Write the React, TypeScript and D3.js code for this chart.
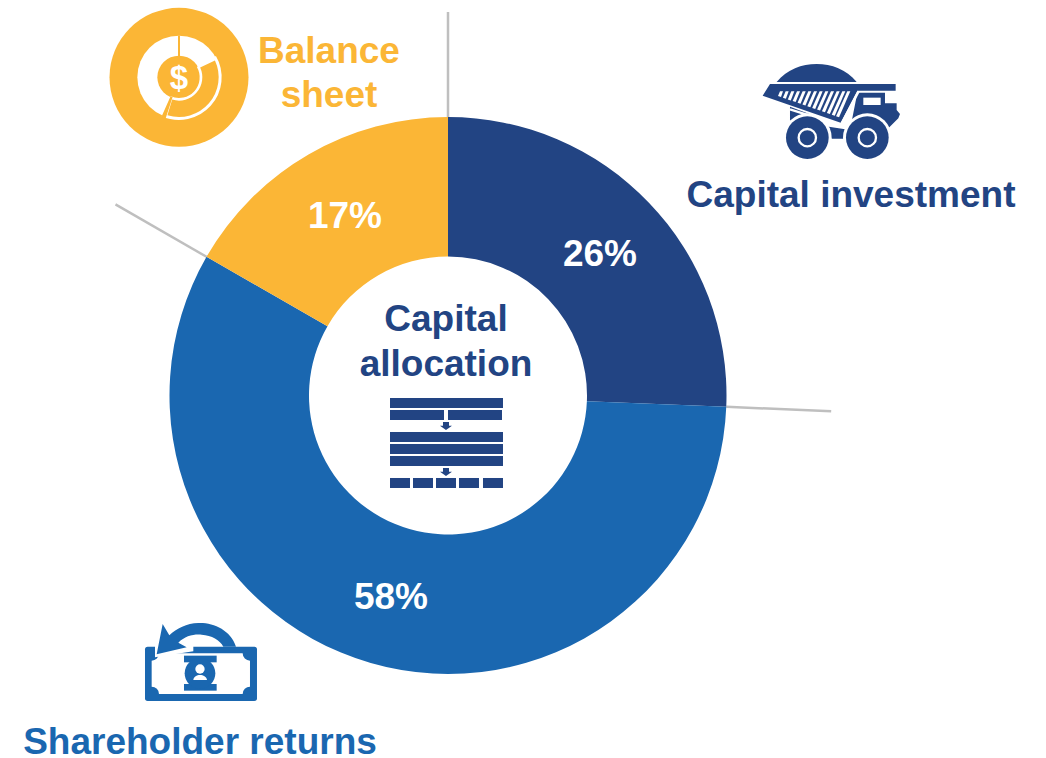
import React from "react";
import * as d3 from "d3";

const categories = ["Capital investment", "Shareholder returns", "Balance sheet"];
const shares = [25.65, 57.65, 16.7];
const shareLabels = ["26%", "58%", "17%"];
const colors = ["#224483", "#1A67B0", "#FBB636"];
const NAVY = colors[0], BLUE = colors[1], GOLD = colors[2];

const cx = 448, cy = 395.5, R = 278.5, r0 = 139;
const FONT = "'Liberation Sans', Arial, sans-serif";

const stripeTops = [90, 107, 124, 141, 158, 175, 192, 209, 226, 243, 260, 277, 292];

function Truck() {
  return (
    <g transform="translate(750,50) scale(0.3333)" fill={NAVY}>
      <path d="M80,96 C112,58 155,42 200,42 C245,42 288,58 320,96 Z" />
      <path d="M120,170 L120,212 L300,240 L322,128 L405,128 L405,160 L440,160 L440,180 L450,192 L445,205 L415,235 L285,266 L245,266 L200,200 Z" />
      <path d="M60,102 L437,102 L437,122 L322,122 L272,218 L38,137 Z" />
      <path d="M120,178 L272,226 L326,124" fill="none" stroke="#fff" strokeWidth={7} />
      {stripeTops.map((x, i) => {
        const yb = 138 + (x - 90) * 0.3;
        const dx = (yb - 125) * 0.46;
        return <path key={i} d={`M${x},124 L${x + 9},124 L${x + 9 - dx},${yb + 3} L${x - dx},${yb} Z`} fill="#fff" />;
      })}
      <rect x={340} y={143} width={52} height={22} fill="#fff" />
      {[172, 352].map((wx) => (
        <g key={wx}>
          <circle cx={wx} cy={263} r={73} fill="#fff" />
          <circle cx={wx} cy={263} r={64} />
          <circle cx={wx} cy={263} r={26} fill="none" stroke="#fff" strokeWidth={7} />
        </g>
      ))}
    </g>
  );
}

function Bill() {
  return (
    <g transform="translate(130,610) scale(0.3333)" fill={BLUE}>
      <rect x={45} y={110} width={336} height={163} rx={8} />
      <path d="M87,130 L338,130 A22,22 0 0 0 360,152 L360,230 A22,22 0 0 0 338,252 L87,252 A22,22 0 0 0 65,230 L65,152 A22,22 0 0 0 87,130 Z" fill="#fff" />
      <rect x={162} y={137} width={98} height={20} />
      <rect x={162} y={222} width={98} height={20} />
      <circle cx={210} cy={190} r={46} />
      <circle cx={210} cy={177} r={14} fill="#fff" />
      <path d="M190,210 C192,190 228,190 231,210 Z" fill="#fff" />
      <path d="M75,106 L190,106 L190,124 L75,142 Z" fill="#fff" />
      <path d="M318,110 C302,60 250,37 205,39 C170,40 140,55 118,76 L98,42 L80,133 L170,112 L145,98 C165,78 190,72 215,74 C245,76 270,90 280,110 Z" />
    </g>
  );
}

function BalanceIcon() {
  const a = d3.arc<any>();
  const seg = (ri: number, ro: number, s: number, e: number) =>
    a({ innerRadius: ri, outerRadius: ro, startAngle: (s * Math.PI) / 180, endAngle: (e * Math.PI) / 180 }) as string;
  return (
    <g transform="translate(179,77.3)">
      <circle r={69.5} fill={GOLD} />
      <g transform="scale(0.3333)">
        <circle r={125} fill="#fff" />
        <circle r={65} fill={GOLD} />
        <rect x={-3} y={-125} width={6} height={62} fill={GOLD} />
        <path d={seg(62, 128, 60, 204)} fill="#fff" />
        <path d={seg(62, 130, 198, 204)} fill={GOLD} />
        <path d={seg(70, 119, 65, 197)} fill={GOLD} />
      </g>
      <text textAnchor="middle" y={11.5} fontFamily={FONT} fontWeight={700} fontSize={33} fill="#fff">$</text>
    </g>
  );
}

function FlowIcon() {
  const full = [24, 126, 162, 198];
  const blocks = [30, 99, 168, 237, 309];
  return (
    <g transform="translate(380,390) scale(0.3333)" fill={NAVY}>
      {full.map((y) => <rect key={y} x={30} y={y} width={339} height={30} />)}
      <rect x={30} y={60} width={162} height={30} />
      <rect x={204} y={60} width={162} height={30} />
      {[96, 234].map((y) => (
        <path key={y} d={`M189,${y} L207,${y} L207,${y + 11} L216,${y + 11} L198,${y + 24} L180,${y + 11} L189,${y + 11} Z`} />
      ))}
      {blocks.map((x) => <rect key={x} x={x} y={264} width={60} height={30} />)}
    </g>
  );
}

export default function App() {
  const pie = d3.pie<number>().sort(null)(shares);
  const arc = d3.arc<d3.PieArcDatum<number>>().innerRadius(r0).outerRadius(R);
  const labelPos: [number, number][] = [[600, 253], [391, 596], [345, 215]];
  const sep = pie.map((p) => p.startAngle);
  const leaderLen = 105;
  return (
    <svg width={1046} height={758} viewBox="0 0 1046 758" style={{ position: "absolute", left: 0, top: 0, display: "block" }}>
      <rect width={1046} height={758} fill="#fff" />
      {sep.map((ang, i) => (
        <line key={i}
          x1={cx + Math.sin(ang) * R} y1={cy - Math.cos(ang) * R}
          x2={cx + Math.sin(ang) * (R + leaderLen)} y2={cy - Math.cos(ang) * (R + leaderLen)}
          stroke="#BFBFBF" strokeWidth={2.5} />
      ))}
      <g transform={`translate(${cx},${cy})`}>
        {pie.map((p, i) => <path key={i} d={arc(p) as string} fill={colors[i]} stroke="none" />)}
      </g>
      {shareLabels.map((t, i) => (
        <text key={t} x={labelPos[i][0]} y={labelPos[i][1]} dy="0.36em" textAnchor="middle" fontFamily={FONT} fontWeight={700} fontSize={37} fill="#fff">{t}</text>
      ))}
      <text x={446} y={331} textAnchor="middle" fontFamily={FONT} fontWeight={700} fontSize={37} fill={NAVY}>Capital</text>
      <text x={446} y={376} textAnchor="middle" fontFamily={FONT} fontWeight={700} fontSize={37} fill={NAVY}>allocation</text>
      <text x={851} y={207} textAnchor="middle" fontFamily={FONT} fontWeight={700} fontSize={37} fill={NAVY}>{categories[0]}</text>
      <text x={200} y={754} textAnchor="middle" fontFamily={FONT} fontWeight={700} fontSize={37} fill={BLUE}>{categories[1]}</text>
      <text x={329} y={63} textAnchor="middle" fontFamily={FONT} fontWeight={700} fontSize={37} fill={GOLD}>Balance</text>
      <text x={329} y={107} textAnchor="middle" fontFamily={FONT} fontWeight={700} fontSize={37} fill={GOLD}>sheet</text>
      <Truck />
      <Bill />
      <BalanceIcon />
      <FlowIcon />
    </svg>
  );
}
